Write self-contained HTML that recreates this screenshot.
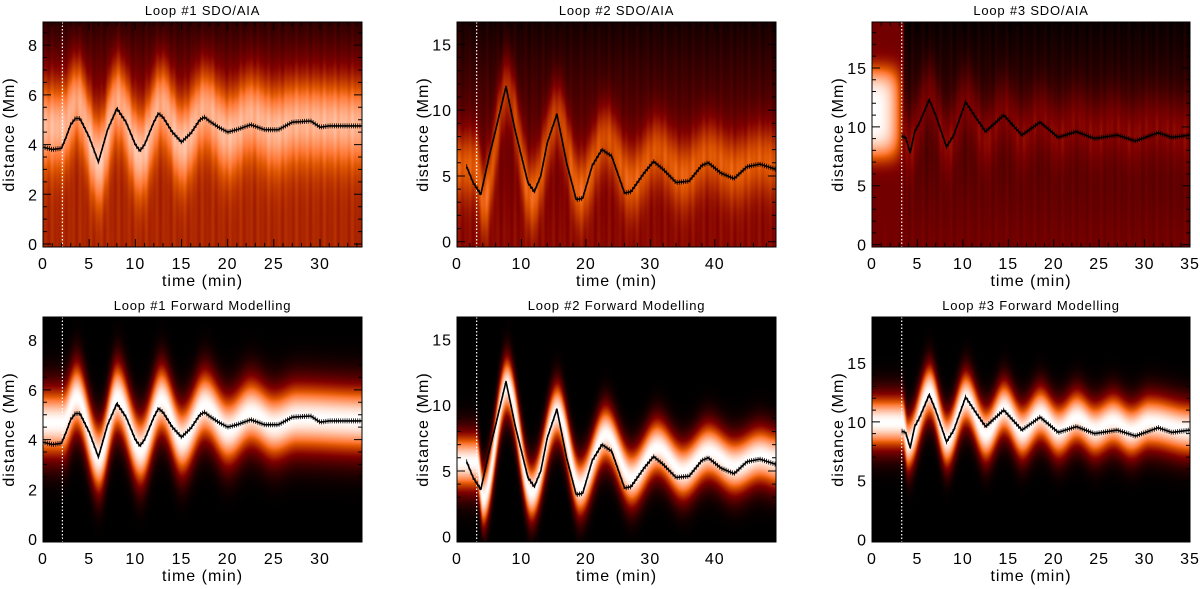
<!DOCTYPE html>
<html><head><meta charset="utf-8">
<style>
html,body{margin:0;padding:0;background:#fff;}
#wrap{position:relative;width:1200px;height:589px;overflow:hidden;font-family:"Liberation Sans","DejaVu Sans",sans-serif;}
canvas{position:absolute;}
svg{position:absolute;left:0;top:0;}
</style></head>
<body>
<div id="wrap">
<canvas id="c0"></canvas>
<canvas id="c1"></canvas>
<canvas id="c2"></canvas>
<canvas id="c3"></canvas>
<canvas id="c4"></canvas>
<canvas id="c5"></canvas>
<svg id="ov" width="1200" height="589"></svg>
</div>
<script>
// ---- measured curves (time min, distance Mm)
const loop1T = [0,1,2,2.5,3,3.5,4,5,6,7,8,9,10,10.5,11,12,12.5,13,14,15,16,17,17.5,18,19,20,21,22.5,24,25.5,27,29,30,31,32,34.5];
const loop1D = [3.9,3.8,3.85,4.3,4.8,5.05,5.05,4.3,3.3,4.6,5.45,4.9,4.0,3.75,4.0,4.9,5.25,5.1,4.5,4.1,4.45,5.0,5.1,4.95,4.7,4.5,4.6,4.8,4.6,4.6,4.9,4.95,4.7,4.75,4.75,4.75];
const loop2T = [1.5,2.5,3.7,5,6,7.6,9,11,12,13,14,15.5,17,18.5,19.5,21,22.5,24,26,27,29,30.5,32,34,36,38,39,41,43,45,47,49.5];
const loop2D = [5.7,4.5,3.6,6.5,8.5,11.8,8.5,4.5,3.8,5,7.5,9.7,6,3.2,3.3,5.8,7.0,6.5,3.7,3.8,5.2,6.1,5.5,4.5,4.6,5.8,6.0,5.2,4.8,5.7,5.9,5.5];
const loop3T = [3.3,3.7,4.2,4.7,5.2,6.3,7,8.2,9,10.3,11.5,12.5,14.5,16.5,18.5,20.5,22.5,24.5,27,29,31.5,33,35];
const loop3D = [9.2,9.1,7.8,9.6,10.3,12.3,11,8.3,9.3,12.1,10.7,9.6,11.0,9.3,10.4,9.1,9.6,9.0,9.3,8.8,9.5,9.1,9.3];
// ---- forward-model band centre knots
const model1T = [0,2.1,3.6,6,8,10.5,12.8,15,17.5,20,22.5,25,27.5,34.6];
const model1D = [4.7,4.7,5.7,3.3,5.7,3.6,5.6,4.0,5.4,4.4,5.1,4.6,4.9,4.8];
const model2T = [0,3,4,7.7,11.5,15.5,19,23,27,31,35,39,43,47,49.6];
const model2D = [5.7,5.7,3.0,11.5,3.4,9.5,3.8,7.8,4.5,6.8,5.0,6.5,5.4,6.2,5.9];
const model3T = [0,3.3,3.9,6.3,8.2,10.3,12.5,14.5,16.5,18.5,20.5,22.5,24.5,26.5,28.5,30.5,35];
const model3D = [10,10,8.2,12.6,8.5,12,9,11.2,9.2,10.7,9.3,10.4,9.4,10.1,9.3,10.0,9.4];
const startT = [2.1,3.05,3.27];
const titles = ["Loop #1 SDO/AIA","Loop #2 SDO/AIA","Loop #3 SDO/AIA","Loop #1 Forward Modelling","Loop #2 Forward Modelling","Loop #3 Forward Modelling"];
const xTicks1 = [0,5,10,15,20,25,30], xTicks2=[0,10,20,30,40], xTicks3=[0,5,10,15,20,25,30,35];
const yTicks1 = [0,2,4,6,8], yTicks2=[0,5,10,15], yTicks3=[0,5,10,15];

const cols = [
 {x0:43,x1:362,xmax:34.55,ymin:-0.12,ymax:8.93,xt:xTicks1,xm:1,ym:0.5,T:loop1T,D:loop1D,MT:model1T,MD:model1D,sig:1.0,ts:startT[0]},
 {x0:457,x1:776,xmax:49.5,ymin:-0.4,ymax:16.7,xt:xTicks2,xm:2,ym:1,T:loop2T,D:loop2D,MT:model2T,MD:model2D,sig:1.55,ts:startT[1]},
 {x0:872,x1:1190,xmax:35,ymin:-0.2,ymax:18.9,xt:xTicks3,xm:1,ym:1,T:loop3T,D:loop3D,MT:model3T,MD:model3D,sig:1.65,ts:startT[2]}];
const rowsY = [[22,247],[317,542]];
const yt = [yTicks1,yTicks2,yTicks3];

function lin(T,D,t){ if(t<=T[0])return D[0]; for(let i=1;i<T.length;i++){ if(t<=T[i]){const f=(t-T[i-1])/(T[i]-T[i-1]);return D[i-1]+f*(D[i]-D[i-1]);}} return D[D.length-1];}
function cosi(T,D,t){ if(t<=T[0])return D[0]; for(let i=1;i<T.length;i++){ if(t<=T[i]){let f=(t-T[i-1])/(T[i]-T[i-1]);f=(1-Math.cos(Math.PI*f))/2;return D[i-1]+f*(D[i]-D[i-1]);}} return D[D.length-1];}
function cl(x){return Math.max(0,Math.min(1,x));}
function cmap(v){v=cl(v);const r=Math.min(1,v*1.5),g=Math.pow(cl((v-0.33)/0.67),1.1),b=cl((v-0.58)/0.42);return [r*255,g*255,b*255];}

const NS='http://www.w3.org/2000/svg';
const svg=document.getElementById('ov');
function el(tag,attrs,parent){const e=document.createElementNS(NS,tag);for(const k in attrs)e.setAttribute(k,attrs[k]);(parent||svg).appendChild(e);return e;}

for(let r=0;r<2;r++)for(let c=0;c<3;c++){
 const P=cols[c], idx=r*3+c, y0=rowsY[r][0], y1=rowsY[r][1];
 const W=P.x1-P.x0, H=y1-y0;
 const sx=t=>P.x0+t/P.xmax*W, sy=d=>y1-(d-P.ymin)/(P.ymax-P.ymin)*H;
 const cv=document.getElementById('c'+idx); cv.width=W; cv.height=H; cv.style.left=P.x0+'px'; cv.style.top=y0+'px';
 const ctx=cv.getContext('2d'); const img=ctx.createImageData(W,H);
 for(let px=0;px<W;px++){
  const t=px/W*P.xmax;
  const mc=cosi(P.MT,P.MD,t);
  const noise=0.035*Math.sin(px*0.9)*Math.sin(px*0.23+c);
  for(let py=0;py<H;py++){
   const d=P.ymax-(py/H)*(P.ymax-P.ymin);
   let v;
   if(r===1){const z=(d-mc)/P.sig; v=Math.exp(-z*z/2);}
   else{
    const rel=(d-P.ymin)/(P.ymax-P.ymin);
    const z=(d-(mc+0.15*P.sig))/(P.sig*1.25);
    if(c===0){v=0.45-0.33*Math.pow(rel,2.5)+0.45*Math.exp(-z*z/2)+noise;}
    else if(c===1){v=0.36-0.3*Math.pow(rel,1.5)+0.3*Math.exp(-z*z/2)+noise;}
    else{v=0.3-0.27*Math.pow(rel,1.2)+0.17*Math.exp(-z*z/2)+noise;
      if(t<3.5){const zz=(d-11.2)/3.3; v=Math.max(v,0.3+0.7*Math.exp(-Math.pow(zz,4)/2)*(1-Math.pow(t/3.5,3)));}}
   }
   const col=cmap(v); const o=(py*W+px)*4;
   img.data[o]=col[0];img.data[o+1]=col[1];img.data[o+2]=col[2];img.data[o+3]=255;
  }
 }
 ctx.putImageData(img,0,0);
 const g=el('g',{});
 
 
 const vl=el('line',{x1:sx(P.ts),x2:sx(P.ts),y1:y0,y2:y1,stroke:'#fff','stroke-width':1.2,'stroke-dasharray':'1.5,2'},g);
 
 
 let dstr='';
 for(let i=0;i<P.T.length;i++)dstr+=(i?'L':'M')+sx(P.T[i]).toFixed(1)+','+sy(P.D[i]).toFixed(1);
 const pl=el('path',{d:dstr,fill:'none',stroke:'#000','stroke-width':1.6,'stroke-linejoin':'round'},g);
 
 
 let eb='';
 const stepT=P.xmax/150;
 for(let t=P.T[0];t<=P.T[P.T.length-1];t+=stepT){const x=sx(t),y=sy(lin(P.T,P.D,t));eb+='M'+x.toFixed(1)+','+(y-2.5).toFixed(1)+'v5';}
 const ebp=el('path',{d:eb,stroke:'#000','stroke-width':0.8,fill:'none'},g);
 
 
 const fr=el('rect',{x:P.x0,y:y0,width:W,height:H,fill:'none',stroke:'#000','stroke-width':1},g);
 
 
 let tk='';
 for(let t=0;t<=P.xmax+1e-6;t+=P.xm){const x=sx(t);const major=P.xt.includes(Math.round(t*100)/100);const L=major?8:4;tk+='M'+x+','+y1+'v-'+L+'M'+x+','+y0+'v'+L;}
 for(let d=Math.ceil(P.ymin/P.ym)*P.ym;d<=P.ymax;d+=P.ym){const y=sy(d);const major=yt[c].some(v=>Math.abs(v-d)<1e-6);const L=major?8:4;tk+='M'+P.x0+','+y+'h'+L+'M'+P.x1+','+y+'h-'+L;}
 const tp=el('path',{d:tk,stroke:'#000','stroke-width':1,fill:'none'},g);
 
 
 for(const t of P.xt){const tx=el('text',{x:sx(t),y:y1+22,'font-size':16,'letter-spacing':1,'text-anchor':'middle',fill:'#000'},g);tx.textContent=t;
  
  }
 for(const d of yt[c]){const tx=el('text',{x:P.x0-5,y:sy(d)+6,'font-size':16,'letter-spacing':1,'text-anchor':'end',fill:'#000'},g);tx.textContent=d;
  
  }
 const xt=el('text',{x:(P.x0+P.x1)/2,y:y1+39,'font-size':16,'letter-spacing':1,'text-anchor':'middle',fill:'#000'},g);xt.textContent='time (min)';
 
 
 const ytx=P.x0-29, ytyc=(y0+y1)/2;
 const yl=el('text',{x:ytx,y:ytyc,'font-size':16,'letter-spacing':1,'text-anchor':'middle',fill:'#000',transform:'rotate(-90 '+ytx+' '+ytyc+')'},g);yl.textContent='distance (Mm)';
 
 
 const ti=el('text',{x:(P.x0+P.x1)/2,y:y0-7,'font-size':13,'letter-spacing':0.8,'text-anchor':'middle',fill:'#000'},g);ti.textContent=titles[idx];
 
 
}
</script>
</body></html>
